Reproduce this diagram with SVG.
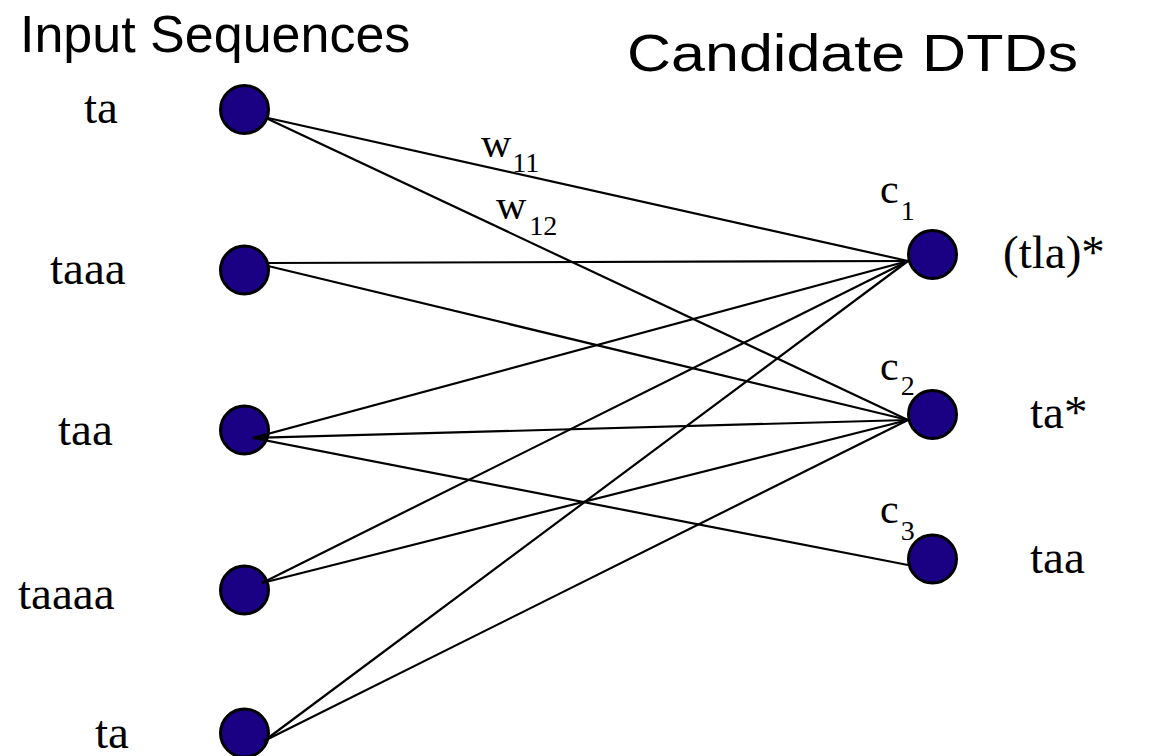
<svg xmlns="http://www.w3.org/2000/svg" width="1162" height="756" viewBox="0 0 1162 756">
<style>
.n{fill:#1a0082;stroke:#000;stroke-width:3}
.e{stroke:#000;stroke-width:2.2;fill:none}
.t{font-family:"Liberation Serif",serif;font-size:47px;fill:#000}
.w{font-family:"Liberation Serif",serif;font-size:42px;fill:#000}
.s{font-family:"Liberation Serif",serif;font-size:28px;fill:#000}
.h{font-family:"Liberation Sans",Arial,sans-serif;font-size:52px;fill:#000}
</style>
<rect width="1162" height="756" fill="#fff"/>
<text class="h" x="20" y="52">Input Sequences</text>
<text class="h" x="627" y="71" textLength="451" lengthAdjust="spacingAndGlyphs">Candidate DTDs</text>
<g id="in1"><circle class="n" cx="244.5" cy="109.5" r="24"/><text class="t" x="84" y="123">ta</text></g>
<g id="in2"><circle class="n" cx="244.5" cy="270" r="24"/><text class="t" x="50" y="284">taaa</text></g>
<g id="in3"><circle class="n" cx="244.5" cy="430" r="24"/><text class="t" x="58" y="445">taa</text></g>
<g id="in4"><circle class="n" cx="244.5" cy="590" r="24"/><text class="t" x="18" y="609">taaaa</text></g>
<g id="in5"><circle class="n" cx="244.5" cy="733" r="24"/><text class="t" x="95" y="748">ta</text></g>
<g id="c1"><circle class="n" cx="932.5" cy="254.5" r="24"/><text class="t" x="1003" y="268">(tla)*</text><text class="w" x="880" y="203">c<tspan class="s" dx="2" dy="17">1</tspan></text></g>
<g id="c2"><circle class="n" cx="932.5" cy="414.5" r="24"/><text class="t" x="1030" y="428">ta*</text><text class="w" x="880" y="380">c<tspan class="s" dx="2" dy="15">2</tspan></text></g>
<g id="c3"><circle class="n" cx="932.5" cy="559" r="24"/><text class="t" x="1030" y="573">taa</text><text class="w" x="880" y="523">c<tspan class="s" dx="2" dy="17">3</tspan></text></g>
<g id="edges">
<line class="e" x1="268" y1="118" x2="908" y2="261"/>
<line class="e" x1="268" y1="119" x2="908" y2="420"/>
<line class="e" x1="268" y1="263" x2="908" y2="261"/>
<line class="e" x1="268" y1="266" x2="908" y2="420"/>
<line class="e" x1="253" y1="438" x2="908" y2="261"/>
<line class="e" x1="253" y1="438" x2="908" y2="420"/>
<line class="e" x1="253" y1="438" x2="908" y2="565"/>
<line class="e" x1="262" y1="583" x2="908" y2="261"/>
<line class="e" x1="262" y1="583" x2="908" y2="420"/>
<line class="e" x1="264" y1="741" x2="908" y2="261"/>
<line class="e" x1="264" y1="741" x2="908" y2="420"/>
<text class="w" x="481" y="157">w<tspan class="s" dx="1" dy="15">11</tspan></text>
<text class="w" x="496" y="219">w<tspan class="s" dx="3" dy="16">12</tspan></text>
</g>
</svg>
